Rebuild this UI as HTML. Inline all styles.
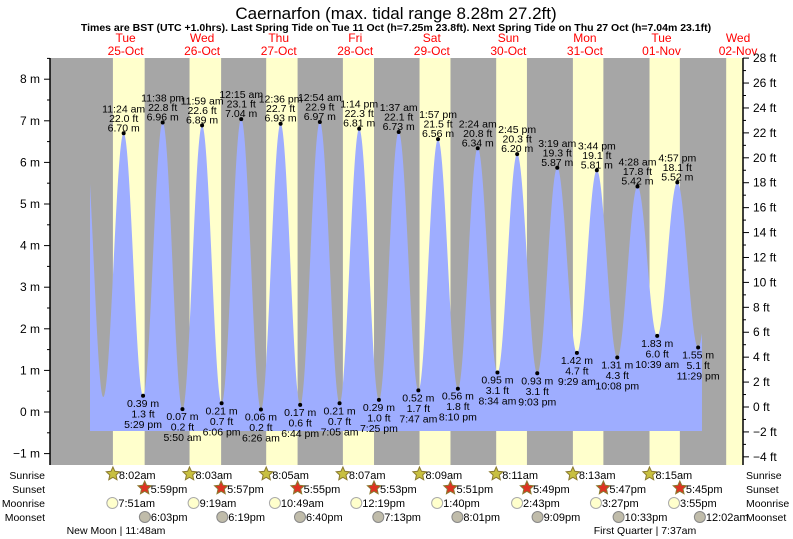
<!DOCTYPE html>
<html><head><meta charset="utf-8"><style>
html,body{margin:0;padding:0;background:#fff}
svg{display:block;font-family:"Liberation Sans",sans-serif}
</style></head><body>
<svg id="chart" width="793" height="539" viewBox="0 0 793 539" xmlns="http://www.w3.org/2000/svg">
<text x="396" y="19" text-anchor="middle" font-size="17" fill="#000">Caernarfon (max. tidal range 8.28m 27.2ft)</text>
<text x="396" y="31" text-anchor="middle" font-size="10.5" font-weight="bold" fill="#000">Times are BST (UTC +1.0hrs). Last Spring Tide on Tue 11 Oct (h=7.25m 23.8ft). Next Spring Tide on Thu 27 Oct (h=7.04m 23.1ft)</text>
<g id="plot"></g>
</svg>
<script>
// ---- data ----
const dayNames = ["Tue","Wed","Thu","Fri","Sat","Sun","Mon","Tue","Wed"];
const dayDates = ["25-Oct","26-Oct","27-Oct","28-Oct","29-Oct","30-Oct","31-Oct","01-Nov","02-Nov"];
const sunriseTimes = ["8:02am","8:03am","8:05am","8:07am","8:09am","8:11am","8:13am","8:15am","8:17am"];
const sunriseHours = [8.03,8.05,8.08,8.12,8.15,8.18,8.22,8.25,8.28];
const sunsetTimes = ["5:59pm","5:57pm","5:55pm","5:53pm","5:51pm","5:49pm","5:47pm","5:45pm","5:43pm"];
const sunsetHours = [17.98,17.95,17.92,17.88,17.85,17.82,17.78,17.75,17.72];
const moonriseTimes = ["7:51am","9:19am","10:49am","12:19pm","1:40pm","2:43pm","3:27pm","3:55pm"];
const moonriseHours = [7.85,9.32,10.82,12.32,13.67,14.72,15.45,15.92];
const moonsetTimes = ["6:03pm","6:19pm","6:40pm","7:13pm","8:01pm","9:09pm","10:33pm","12:02am"];
const moonsetHours = [18.05,18.32,18.67,19.22,20.02,21.15,22.55,24.03];
const tideHours = [-1.0,5.0,11.4,17.48,23.63,29.83,35.98,42.1,48.25,54.43,60.6,66.73,72.9,79.08,85.23,91.42,97.62,103.78,109.95,116.17,122.4,128.57,134.75,141.05,147.32,153.48,159.73,166.13,172.47,178.65,184.95,191.48,197.6];
const tideHeights = [6.9,0.36,6.70,0.39,6.96,0.07,6.89,0.21,7.04,0.06,6.93,0.17,6.97,0.21,6.81,0.29,6.73,0.52,6.56,0.56,6.34,0.95,6.20,0.93,5.87,1.42,5.81,1.31,5.42,1.83,5.52,1.55,5.3];
const tideFt = [null,null,"22.0","1.3","22.8","0.2","22.6","0.7","23.1","0.2","22.7","0.6","22.9","0.7","22.3","1.0","22.1","1.7","21.5","1.8","20.8","3.1","20.3","3.1","19.3","4.7","19.1","4.3","17.8","6.0","18.1","5.1",null];
const tideTimes = [null,null,"11:24 am","5:29 pm","11:38 pm","5:50 am","11:59 am","6:06 pm","12:15 am","6:26 am","12:36 pm","6:44 pm","12:54 am","7:05 am","1:14 pm","7:25 pm","1:37 am","7:47 am","1:57 pm","8:10 pm","2:24 am","8:34 am","2:45 pm","9:03 pm","3:19 am","9:29 am","3:44 pm","10:08 pm","4:28 am","10:39 am","4:57 pm","11:29 pm",null];
const mTicks = [-1,0,1,2,3,4,5,6,7,8];
const ftTicks = [-4,-2,0,2,4,6,8,10,12,14,16,18,20,22,24,26,28];

const X0=50, X1=743, Y0=58, Y1=465;
const T0=87.3, PXH=3.19;
const xOf = h => T0 + h*PXH;
const yOf = m => 412 - m*41.6;
const yFt = f => 407 - f*12.46;
const NS="http://www.w3.org/2000/svg";
const g=document.getElementById('plot');
function mk(tag, attrs, parent){const e=document.createElementNS(NS,tag);for(const k in attrs)e.setAttribute(k,attrs[k]);(parent||g).appendChild(e);return e;}
function txt(x,y,s,size,fill,anchor){const e=mk('text',{x:x,y:y,'font-size':size,fill:fill||'#000','text-anchor':anchor||'middle'});e.textContent=s;return e;}

const bg=mk('rect',{x:X0,y:Y0,width:X1-X0,height:Y1-Y0,fill:'#a6a6a6'});


for(let d=0;d<dayNames.length;d++){
  const xa=Math.max(X0,xOf(d*24+sunriseHours[d])), xb=Math.min(X1,xOf(d*24+sunsetHours[d]));
  if(xb>xa){const r=mk('rect',{x:xa,y:Y0,width:xb-xa,height:Y1-Y0,fill:'#ffffcc'});
  
  }
  const cx=xOf(d*24+12);
  const t1=txt(cx,42,dayNames[d],12,'#ff0000');
  
  
  const t2=txt(cx,55,dayDates[d],12,'#ff0000');
  
  
}
function tideAt(h){
  for(let i=0;i<tideHours.length-1;i++){
    if(h>=tideHours[i]&&h<=tideHours[i+1]){
      const f=(h-tideHours[i])/(tideHours[i+1]-tideHours[i]);
      const a=tideHeights[i],b=tideHeights[i+1];
      return a+(b-a)*(1-Math.cos(Math.PI*f))/2;
    }
  }
  return 0;
}
const hStart=(90-T0)/PXH, hEnd=(702-T0)/PXH, yBase=431;
let d='M90 '+yBase;
for(let h=hStart;h<=hEnd;h+=0.1){d+=' L'+xOf(h).toFixed(2)+' '+yOf(tideAt(h)).toFixed(2);}
d+=' L'+xOf(hEnd).toFixed(2)+' '+yOf(tideAt(hEnd)).toFixed(2)+' L702 '+yBase+' Z';
const area=mk('path',{d:d,fill:'#9eadff'});


for(let i=0;i<tideHours.length;i++){
  if(tideFt[i]===null)continue;
  const x=xOf(tideHours[i]), y=yOf(tideHeights[i]);
  const dot=mk('circle',{cx:x,cy:y,r:2,fill:'#000'});
  
  
  const high=tideHeights[i]>3;
  const mS=tideHeights[i].toFixed(2)+' m', fS=tideFt[i]+' ft';
  let a,b,c;
  if(high){a=txt(x,y-21,tideTimes[i],10.5);b=txt(x,y-11.5,fS,10.5);c=txt(x,y-2,mS,10.5);}
  else{c=txt(x,y+11,mS,10.5);b=txt(x,y+21.5,fS,10.5);a=txt(x,y+32,tideTimes[i],10.5);}
  
  
  
  
  
  
}
const la=mk('line',{x1:X0,y1:Y0,x2:X0,y2:Y1,stroke:'#000','stroke-width':1.5});


const ra=mk('line',{x1:X1,y1:Y0,x2:X1,y2:Y1,stroke:'#000','stroke-width':1.5});


for(let m=-1;m<=8.5;m+=0.5){const y=yOf(m);if(y<Y0||y>Y1)continue;const major=Number.isInteger(m);mk('line',{x1:X0-(major?6:3),y1:y,x2:X0,y2:y,stroke:'#000'});}
mTicks.forEach(m=>{const t=txt(X0-10,yOf(m)+4,(m<0?'\u2212'+(-m):m)+' m',12,'#000','end');
  
  });
for(let f=-5;f<=28;f++){const y=yFt(f);if(y<Y0-1||y>Y1)continue;const major=f%2===0;mk('line',{x1:X1,y1:y,x2:X1+(major?6:3),y2:y,stroke:'#000'});}
ftTicks.forEach(f=>{const t=txt(X1+10,yFt(f)+4,(f<0?'\u2212'+(-f):f)+' ft',12,'#000','start');
  
  });
const rowNames=["Sunrise","Sunset","Moonrise","Moonset"], rowY=[479,493,507,521];
rowNames.forEach((n,i)=>{
  const l=txt(45,rowY[i],n,10.5,'#000','end');
  
  
  const r=txt(746,rowY[i],n,10.5,'#000','start');
  
  
});
function star(cx,cy,fill){let p='';for(let k=0;k<10;k++){const rr=k%2?3.3:7,a=-Math.PI/2+k*Math.PI/5;p+=(cx+rr*Math.cos(a)).toFixed(1)+','+(cy+rr*Math.sin(a)).toFixed(1)+' ';}
  return mk('polygon',{points:p,fill:fill,stroke:'#8a7a30','stroke-width':1});}
for(let i=0;i<8;i++){
  let x=xOf(i*24+sunriseHours[i]);
  const s1=star(x,rowY[0]-5,'#c8c040');
  
  
  const t1=txt(x+6,rowY[0],sunriseTimes[i],11,'#000','start');
  
  
  x=xOf(i*24+sunsetHours[i]);
  const s2=star(x,rowY[1]-5,'#dd3322');
  
  
  const t2=txt(x+6,rowY[1],sunsetTimes[i],11,'#000','start');
  
  
  x=xOf(i*24+moonriseHours[i]);
  const c1=mk('circle',{cx:x,cy:rowY[2]-4,r:5.5,fill:'#ffffcc',stroke:'#aaa'});
  
  
  const t3=txt(x+6,rowY[2],moonriseTimes[i],11,'#000','start');
  
  
  x=xOf(i*24+moonsetHours[i]);
  const c2=mk('circle',{cx:x,cy:rowY[3]-4,r:5.5,fill:'#c0bcaa',stroke:'#888'});
  
  
  const t4=txt(x+6,rowY[3],moonsetTimes[i],11,'#000','start');
  
  
}
const nm=txt(116,534,'New Moon | 11:48am',10.5);


const fq=txt(645,534,'First Quarter | 7:37am',10.5);


</script>
</body></html>
